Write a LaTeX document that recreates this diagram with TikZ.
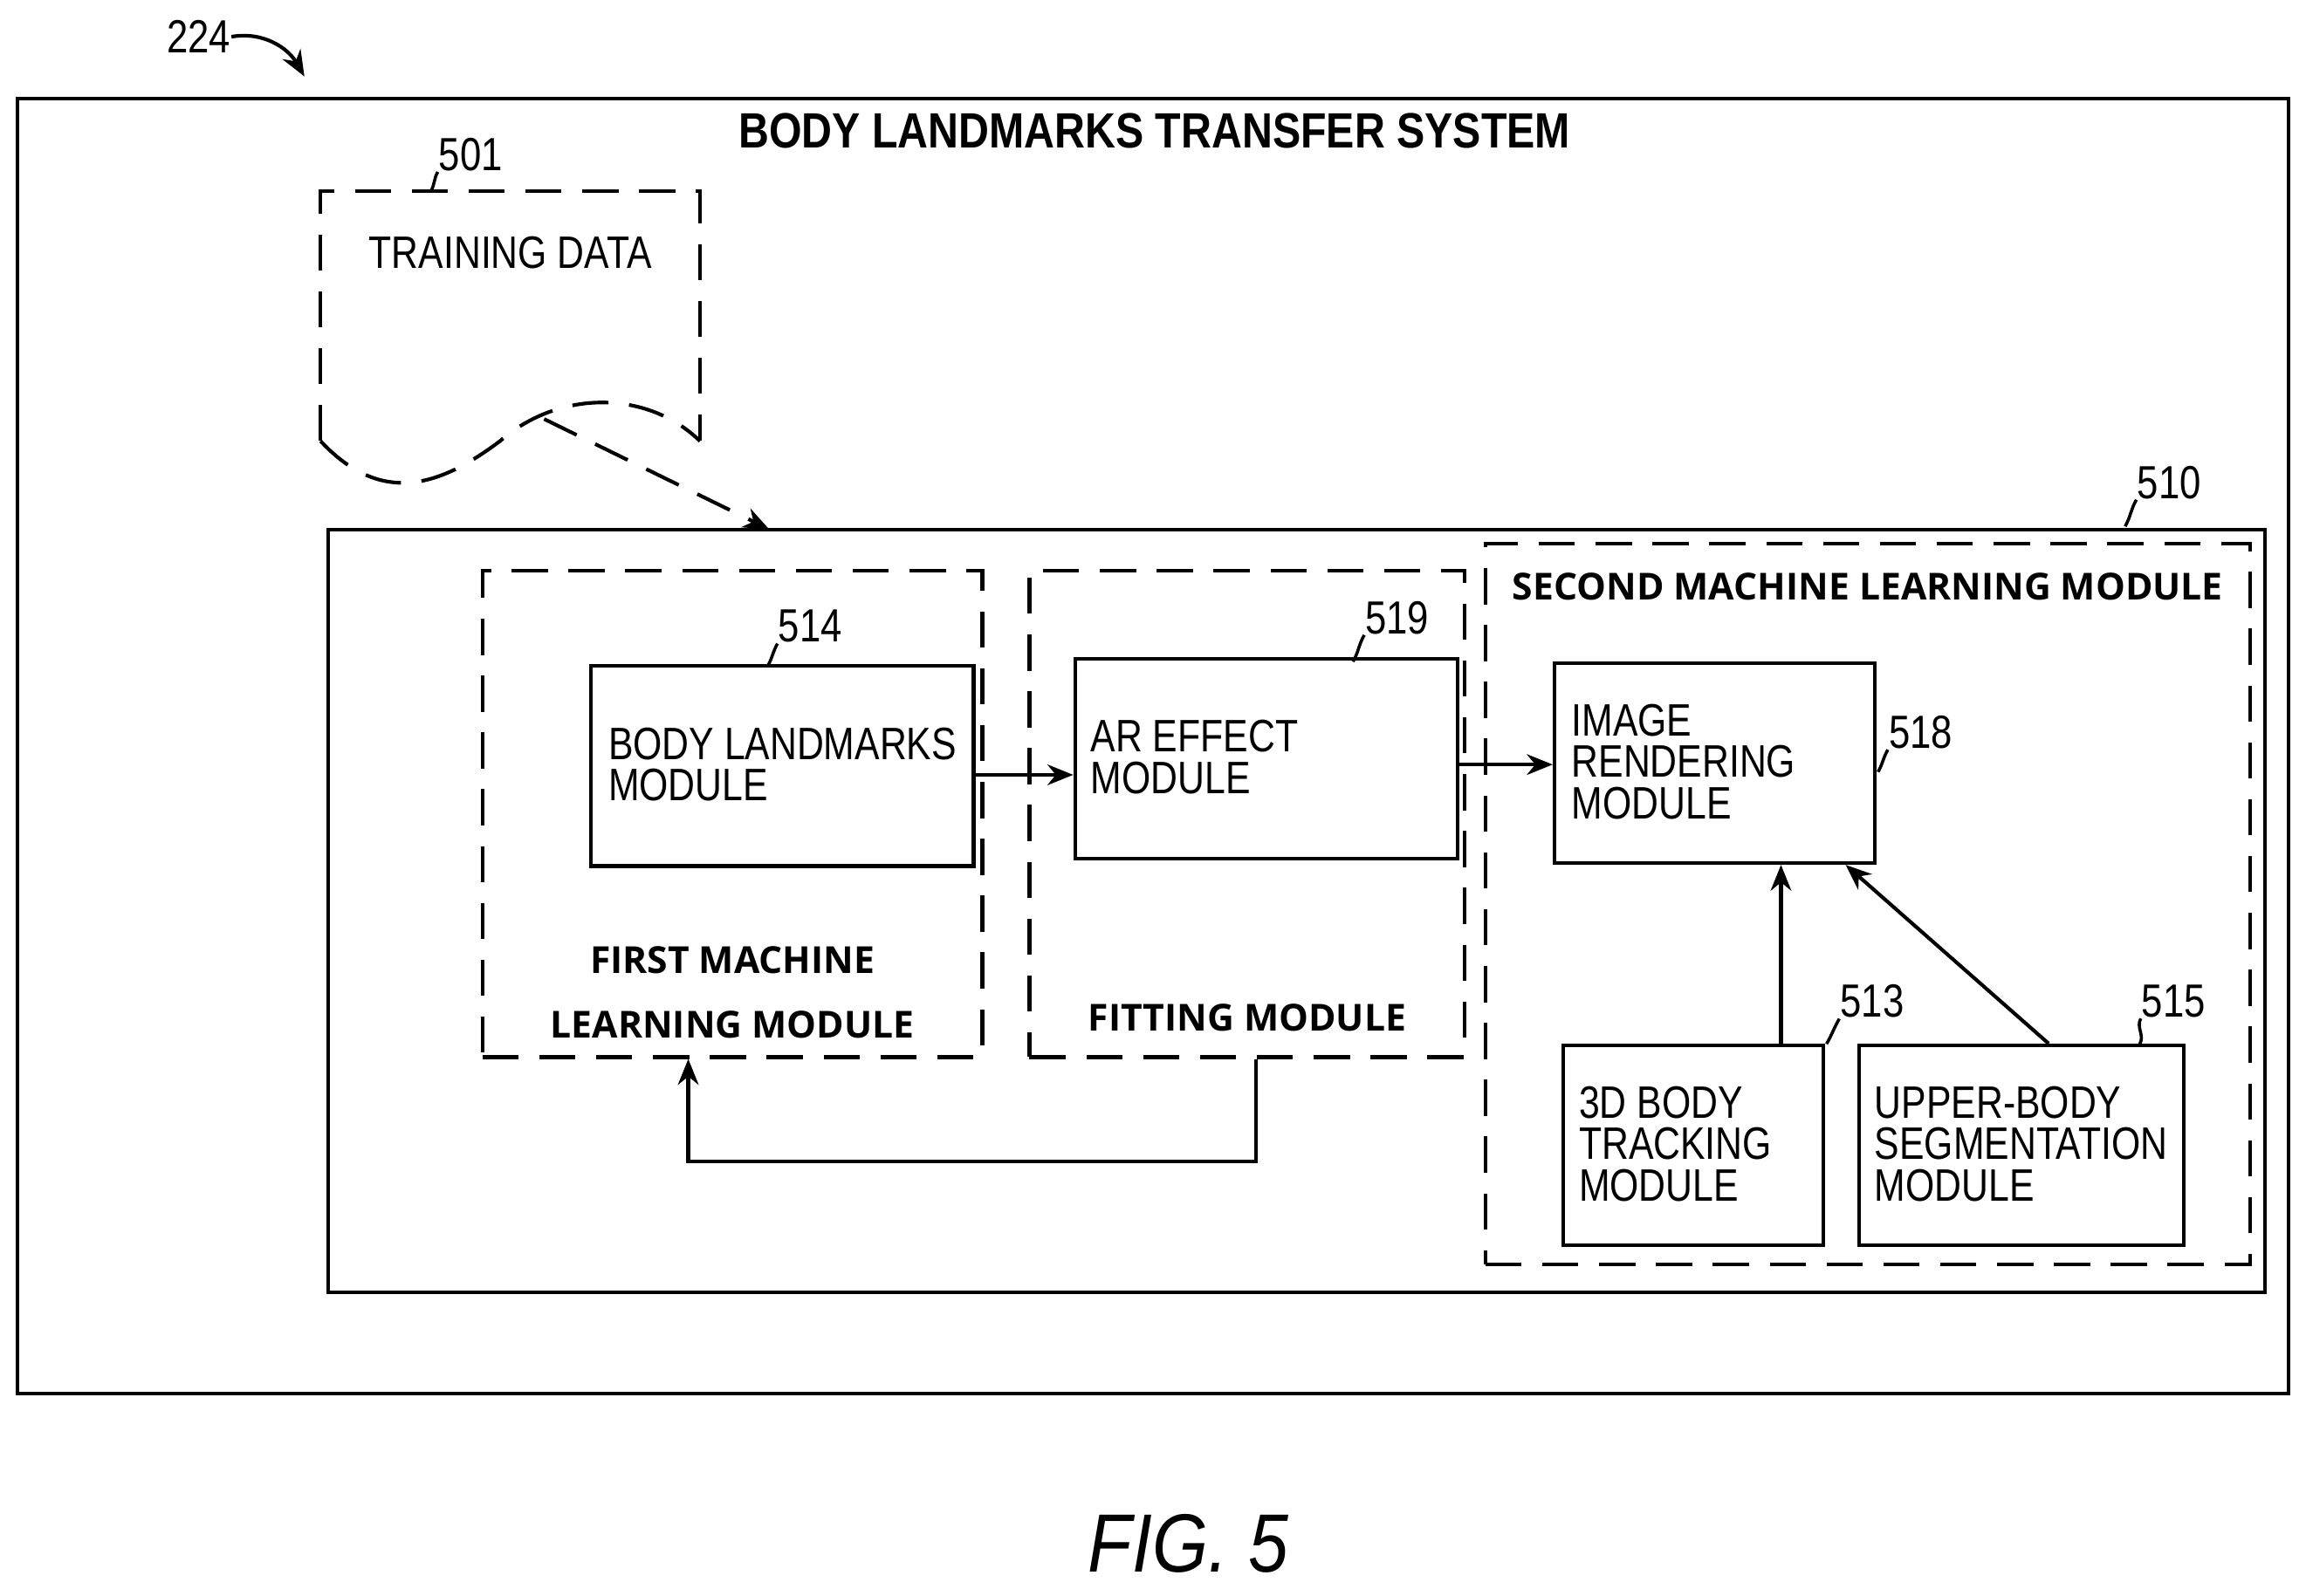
\documentclass[tikz,border=0pt]{standalone}
\usepackage{fontspec}
\setmainfont{Liberation Sans}
\newfontfamily\nfam[FakeStretch=0.82]{Liberation Sans}
\newfontfamily\tfam[FakeStretch=0.85]{Liberation Sans}
\newfontfamily\ffam[FakeStretch=0.87]{Liberation Sans}
\newfontfamily\bfam{Open Sans}
\usetikzlibrary{arrows.meta,fit}
\begin{document}
\begin{tikzpicture}[x=0.1mm,y=-0.1mm,
  box/.style={draw,line width=0.7pt,inner sep=0},
  dbox/.style={draw,line width=0.7pt,dash pattern=on 7pt off 4pt,inner sep=0},
  arr/.style={-{Stealth[length=5pt,width=4pt]},line width=0.7pt},
  lead/.style={line width=0.6pt},
  txt/.style={font=\nfam\fontsize{8.8pt}{8pt}\selectfont,align=left,inner sep=0},
  ref/.style={font=\nfam\fontsize{9pt}{9pt}\selectfont,inner sep=0},
  btxt/.style={font=\bfam\bfseries\fontsize{7.2pt}{12.5pt}\selectfont,align=center,inner sep=0}]
\useasboundingbox (0,0) rectangle (1568,1085);
\node[box,fit={(12,67)(1556,948)}] (outer) {};
\node[font=\tfam\bfseries\fontsize{9.6pt}{10pt}\selectfont] (title) at (785,89) {BODY LANDMARKS TRANSFER SYSTEM};
\node[ref] (r224) at (135,25) {224};
\coordinate (e224) at (207,52);
\draw[arr] (r224.east) to[out=10,in=120] (e224);
% training data
\draw[dbox] (218,300) -- (218,130) -- (476,130) -- (476,300);
\draw[dbox] (218,300) .. controls (260,345) and (300,330) .. (340,300) .. controls (380,265) and (440,265) .. (476,300);
\node[txt] (td) at (347,172) {TRAINING DATA};
\node[ref] (r501) at (320,105) {501};
\draw[lead] (r501.south west) to[out=-120,in=60] (293,130);
\coordinate (tds) at (370,285);
% 510
\node[box,fit={(223,360)(1540,879)}] (b510) {};
\draw[arr,dash pattern=on 7pt off 4pt] (tds) -- (523,360);
\node[ref] (r510) at (1475,328) {510};
\draw[lead] (r510.south west) to[out=-120,in=60] (1445,358);
% first ML
\node[dbox,fit={(328,388)(668,719)}] (fml) {};
\node[btxt] at (498,675) {FIRST MACHINE\\LEARNING MODULE};
\node[box,fit={(402,453)(662,589)}] (blm) {};
\node[txt,anchor=west] at (413,520) {BODY LANDMARKS\\MODULE};
\node[ref] (r514) at (551,426) {514};
\draw[lead] (r514.south west) to[out=-120,in=60] (522,453);
% fitting
\node[dbox,fit={(700,388)(996,719)}] (fit) {};
\node[btxt] at (848,692) {FITTING MODULE};
\node[box,fit={(731,448)(991,584)}] (ar) {};
\node[txt,anchor=west] at (741,515) {AR EFFECT\\MODULE};
\node[ref] (r519) at (950,420) {519};
\draw[lead] (r519.south west) to[out=-120,in=60] (920,450);
% second ML
\node[dbox,fit={(1010,370)(1530,860)}] (sml) {};
\node[btxt] at (1270,399) {SECOND MACHINE LEARNING MODULE};
\node[box,fit={(1057,451)(1275,587)}] (img) {};
\node[txt,anchor=west] at (1068,518) {IMAGE\\RENDERING\\MODULE};
\node[ref] (r518) at (1306,498) {518};
\draw[lead] (r518.south west) to[out=-120,in=60] (1277,525);
\node[box,fit={(1063,711)(1240,847)}] (trk) {};
\node[txt,anchor=west] at (1073,778) {3D BODY\\TRACKING\\MODULE};
\node[ref] (r513) at (1273,681) {513};
\draw[lead] (r513.south west) to[out=-120,in=60] (1242,710);
\node[box,fit={(1264,711)(1485,847)}] (seg) {};
\node[txt,anchor=west] at (1274,778) {UPPER-BODY\\SEGMENTATION\\MODULE};
\node[ref] (r515) at (1478,681) {515};
\draw[lead] (r515.south west) to[out=-120,in=60] (1455,710);
% arrows
\draw[arr] (blm.east |- 0,527) -- (ar.west |- 0,527);
\draw[arr] (ar.east |- 0,520) -- (img.west |- 0,520);
\draw[arr] (trk.north -| 1211,0) -- (img.south -| 1211,0);
\draw[arr] (seg.north -| 1393,0) -- (img.south -| 1255,0);
\draw[arr] (fit.south -| 854,0) -- (854,790) -- (468,790) -- (fml.south -| 468,0);
\node[font=\ffam\itshape\fontsize{16pt}{16pt}\selectfont] (fig) at (808,1050) {FIG. 5};
\end{tikzpicture}
\end{document}
